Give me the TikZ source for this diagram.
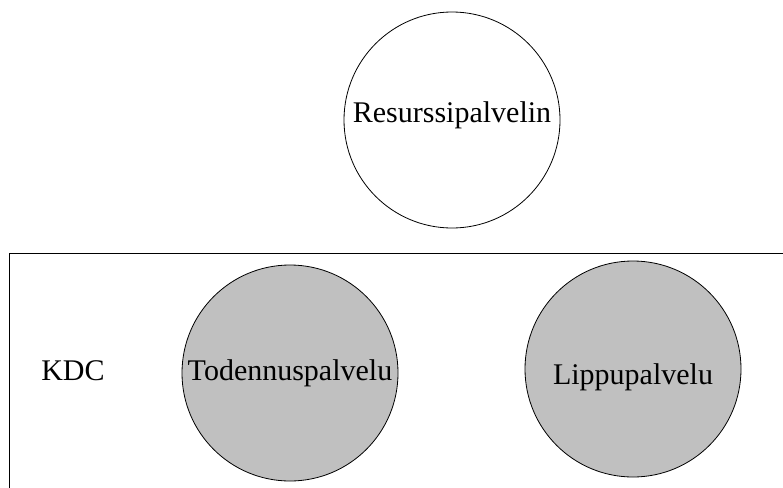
\documentclass[tikz,border=0pt]{standalone}
\usepackage{fontspec}
\setmainfont{Liberation Serif}
\definecolor{palvelugray}{RGB}{192,192,192}
\begin{document}
\begin{tikzpicture}[x=1pt,y=-1pt,
  palvelu/.style={circle,draw,line width=0.8pt,minimum size=216pt,inner sep=0pt,font=\fontsize{30}{36}\selectfont},
  kdcpalvelu/.style={palvelu,fill=palvelugray}]
\useasboundingbox (0,0) rectangle (783,487);
\clip (0,0) rectangle (783,487);
% KDC box, runs off the right and bottom edges
\draw [line width=1pt] (9,253) rectangle (795,500);
\node [font=\fontsize{30}{36}\selectfont] (kdc) at (73,371) {KDC};
\node [palvelu,text height=20pt,text depth=16pt] (resurssi) at (452,120) {Resurssipalvelin};
\node [kdcpalvelu] (todennus) at (290,373) {Todennuspalvelu};
\node [kdcpalvelu,text height=30pt,text depth=0pt] (lippu) at (633,369) {Lippupalvelu};
\end{tikzpicture}
\end{document}
